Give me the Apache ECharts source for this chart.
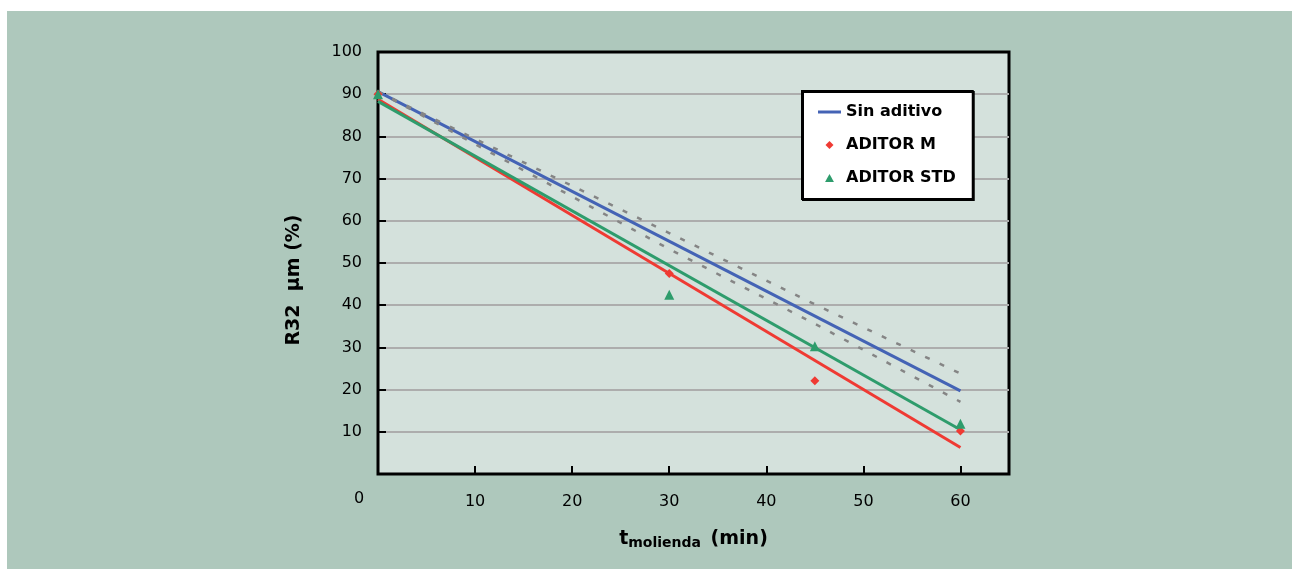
<!DOCTYPE html>
<html>
<head>
<meta charset="utf-8">
<script src="https://cdn.jsdelivr.net/npm/echarts@6/dist/echarts.min.js"></script>
<style>
  html, body { margin: 0; padding: 0; background: #ffffff; }
  #bg { position: absolute; left: 7px; top: 11px; right: 0; bottom: 0; background: #aec8bc; }
  #chart { position: absolute; left: 0; top: 0; width: 1292px; height: 569px; }
</style>
</head>
<body>
<div id="bg"></div>
<div id="chart"></div>
<script>
// ---- data ----
var xTicks = [0, 10, 20, 30, 40, 50, 60];
var yTicks = [0, 10, 20, 30, 40, 50, 60, 70, 80, 90, 100];

var sinAditivoLine = [[0, 90.6], [60, 19.7]];
var sinAditivoUpper = [[0, 90.6], [30, 57.1], [45, 40.2], [60, 23.8]];
var sinAditivoLower = [[0, 90.6], [30, 53.3], [45, 35.6], [60, 17.1]];

var aditorMPoints = [[0, 90], [30, 47.5], [45, 22.1], [60, 10.2]];
var aditorMLine = [[0, 88.8], [60, 6.3]];

var aditorStdPoints = [[0, 90], [30, 42.5], [45, 30.3], [60, 11.9]];
var aditorStdLine = [[0, 88.3], [60, 10.5]];

var FONT = 'DejaVu Sans';
var BLUE = '#4463b5', RED = '#ef3a33', GREEN = '#2e9c6c', GREY = '#858585';

var chart = echarts.init(document.getElementById('chart'), null, { renderer: 'canvas' });

chart.setOption({
  backgroundColor: 'transparent',
  animation: false,
  textStyle: { fontFamily: FONT },
  grid: {
    left: 378, top: 52, width: 631, height: 422,
    show: true, backgroundColor: '#d4e1dc', borderColor: '#000000', borderWidth: 3
  },
  legend: {
    orient: 'vertical',
    left: 802, top: 91,
    data: [
      { name: 'Sin aditivo', icon: 'path://M0,0H23V3H0Z', itemStyle: { color: BLUE, opacity: 1 } },
      { name: 'ADITOR M', icon: 'path://M5,0L10,5L5,10L0,5Z', itemStyle: { color: RED, opacity: 1 } },
      { name: 'ADITOR STD', icon: 'path://M5,0L10,9L0,9Z', itemStyle: { color: GREEN, opacity: 1 } }
    ],
    symbolKeepAspect: true,
    itemWidth: 23, itemHeight: 8, itemGap: 15,
    padding: [12, 17, 12, 16],
    backgroundColor: '#ffffff',
    borderColor: '#000000', borderWidth: 2,
    shadowColor: '#000000', shadowOffsetX: 1, shadowOffsetY: 1, shadowBlur: 0,
    textStyle: { fontFamily: FONT, fontSize: 16, fontWeight: 'bold', color: '#000', lineHeight: 18 }
  },
  xAxis: {
    type: 'value', min: 0, max: 65, interval: 10,
    axisLine: { show: false },
    axisTick: { show: true, inside: true, length: 8, lineStyle: { color: '#000', width: 2 } },
    splitLine: { show: false },
    axisLabel: {
      showMinLabel: false, showMaxLabel: false, margin: 20,
      fontFamily: FONT, fontSize: 16, color: '#000',
      formatter: function (v) { return xTicks.indexOf(v) >= 0 ? String(v) : ''; }
    },
    name: '{t|t}{sub|molienda}{t| (min)}',
    nameLocation: 'middle', nameGap: 52,
    nameTextStyle: {
      rich: {
        t: { fontFamily: FONT, fontSize: 19, fontWeight: 'bold', color: '#000', lineHeight: 26 },
        sub: { fontFamily: FONT, fontSize: 14, fontWeight: 'bold', color: '#000', lineHeight: 26, padding: [8, 3, 0, 0] }
      }
    }
  },
  yAxis: {
    type: 'value', min: 0, max: 100, interval: 10,
    axisLine: { show: false },
    axisTick: { show: true, inside: true, length: 8, lineStyle: { color: '#000', width: 2 } },
    splitLine: { show: true, showMinLine: false, showMaxLine: false, lineStyle: { color: '#adadad', width: 2 } },
    axisLabel: {
      showMinLabel: false, margin: 16,
      fontFamily: FONT, fontSize: 16, color: '#000',
      formatter: function (v) { return yTicks.indexOf(v) >= 0 ? String(v) : ''; }
    },
    name: 'R32  µm (%)',
    nameLocation: 'middle', nameGap: 74, nameRotate: 90,
    nameTextStyle: { fontFamily: FONT, fontSize: 19, fontWeight: 'bold', color: '#000', padding: [0, 34, 0, 0] }
  },
  graphic: [
    { type: 'text', left: 354, top: 491, style: { text: '0', font: '16px "DejaVu Sans"', fill: '#000' } }
  ],
  series: [
    {
      name: 'Sin aditivo', type: 'line', data: sinAditivoLine, symbol: 'none', showSymbol: false,
      lineStyle: { color: BLUE, width: 3 }, itemStyle: { color: BLUE }, z: 2
    },
    {
      name: 'upper', type: 'line', data: sinAditivoUpper, symbol: 'none',
      lineStyle: { color: GREY, width: 2.5, type: [5, 11] }, z: 3
    },
    {
      name: 'lower', type: 'line', data: sinAditivoLower, symbol: 'none',
      lineStyle: { color: GREY, width: 2.5, type: [5, 11] }, z: 3
    },
    {
      name: 'ADITOR M line', type: 'line', data: aditorMLine, symbol: 'none',
      lineStyle: { color: RED, width: 3 }, z: 2
    },
    {
      name: 'ADITOR STD line', type: 'line', data: aditorStdLine, symbol: 'none',
      lineStyle: { color: GREEN, width: 3 }, z: 2
    },
    {
      name: 'ADITOR M', type: 'scatter', data: aditorMPoints, symbol: 'diamond', symbolSize: 9,
      itemStyle: { color: RED, opacity: 1 }, z: 4
    },
    {
      name: 'ADITOR STD', type: 'scatter', data: aditorStdPoints, symbol: 'triangle', symbolSize: 10,
      itemStyle: { color: GREEN, opacity: 1 }, z: 4
    }
  ]
});
</script>
</body>
</html>
